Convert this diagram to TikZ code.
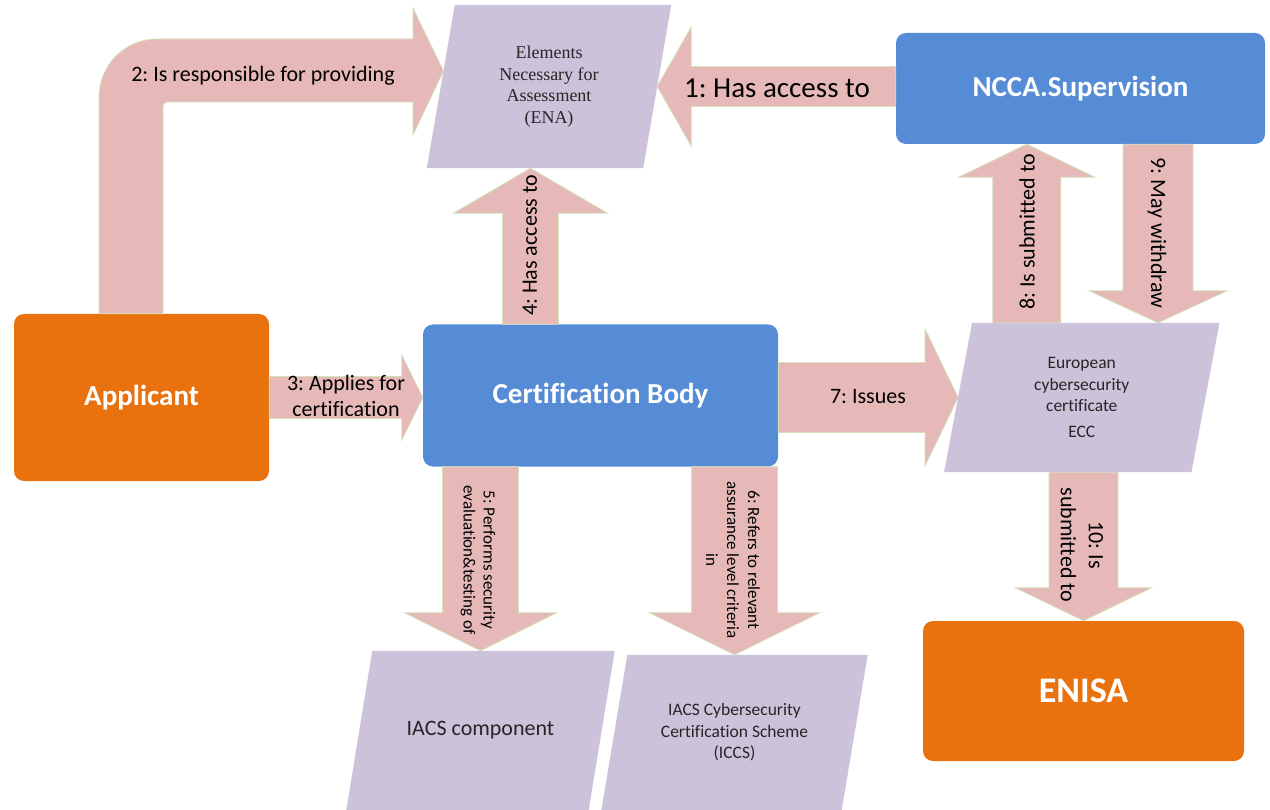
\documentclass[tikz,border=0pt]{standalone}
\usepackage{fontspec}
\setmainfont{Carlito}[Ligatures=NoCommon]
\newfontfamily\enaserif{Liberation Serif}
\usetikzlibrary{calc}
\pgfdeclarelayer{bg}
\pgfsetlayers{bg,main}
\definecolor{orng}{HTML}{E9720F}
\definecolor{blu}{HTML}{568CD6}
\definecolor{pnk}{HTML}{E6B9B8}
\definecolor{lav}{HTML}{CCC2DA}
\definecolor{grn}{HTML}{D3E2BB}
\definecolor{txt}{HTML}{262626}
\frenchspacing
\newcommand\blockarrow[5]{%
  \coordinate (ba-s) at (#1);
  \coordinate (ba-t) at (#2);
  \coordinate (ba-h) at ($(ba-t)!#5pt!(ba-s)$);
  \path[barrow] ($(ba-s)!#3pt!90:(ba-t)$) -- ($(ba-h)!#3pt!90:(ba-t)$)
    -- ($(ba-h)!#4pt!90:(ba-t)$) -- (ba-t) -- ($(ba-h)!#4pt!-90:(ba-t)$)
    -- ($(ba-h)!#3pt!-90:(ba-t)$) -- ($(ba-s)!#3pt!-90:(ba-t)$) -- cycle;}
\begin{document}
\begin{tikzpicture}[x=1pt,y=-1pt,
  barrow/.style={fill=pnk, draw=grn, line width=0.8pt, line join=miter},
  rbox/.style={rounded corners=10pt, inner sep=0pt, text=white, font=\bfseries\fontsize{29}{34}\selectfont},
  para/.style={inner sep=0pt, align=center, text=txt, font=\fontsize{17.5}{21.5}\selectfont},
  lbl/.style={inner sep=0pt, align=center, text=black, font=\fontsize{22}{27}\selectfont}]
\useasboundingbox (0,0) rectangle (1270,810);
% boxes
\node[rbox, fill=orng, minimum width=255pt, minimum height=167pt] (app) at (141.5,397.5) {Applicant};
\node[rbox, fill=blu, minimum width=355pt, minimum height=142pt] (cb) at (600.5,395.5) {Certification Body};
\node[rbox, fill=blu, minimum width=369pt, minimum height=111pt] (ncca) at (1080.5,88.5) {NCCA.Supervision};
\node[rbox, fill=orng, minimum width=321pt, minimum height=140pt, font=\bfseries\fontsize{36}{40}\selectfont] (enisa) at (1083.5,691) {ENISA};
% parallelograms
\node[para, minimum width=216pt, minimum height=163pt, font=\enaserif\fontsize{18}{21.5}\selectfont] (ena) at (549,86.5) {Elements\\Necessary for\\Assessment\\(ENA)};
\node[para, minimum width=247pt, minimum height=149pt] (ecc) at (1081.75,397.5) {European\\cybersecurity\\certificate\\[4pt]ECC};
\node[para, minimum width=242pt, minimum height=159pt, font=\fontsize{22}{26}\selectfont] (comp) at (480.5,730.5) {IACS component};
\node[para, minimum width=240pt, minimum height=155pt] (iccs) at (734.5,732.5) {IACS Cybersecurity\\Certification Scheme\\(ICCS)};
\begin{pgfonlayer}{bg}
\fill[white] (0,0) rectangle (1270,810);
\foreach \n/\s in {ena/14,ecc/14,comp/13,iccs/13}
  \fill[lav] ($(\n.south west)+(-\s,0)$) -- ($(\n.south east)+(-\s,0)$)
    -- ($(\n.north east)+(\s,0)$) -- ($(\n.north west)+(\s,0)$) -- cycle;
\end{pgfonlayer}
% connectors
\coordinate (t2) at ($(ena.west)+(2.7,-15.5)$);
\path[barrow] ($(app.north)+(-42.5,0)$) -- (99,97) .. controls (99,65) and (125,39) .. (157,39)
  -- (413,39) -- (413,8) -- (t2) -- (413,135) -- (413,102) -- (167,102)
  .. controls (165,102) and (163,104) .. (163,106) -- ($(app.north)+(21.5,0)$) -- cycle;
\blockarrow{ncca.west |- ena.east}{ena.east}{20}{59.5}{34}
\blockarrow{app.east}{cb.west |- app.east}{21}{42.5}{21}
\coordinate (s4) at ($(cb.north)+(-70,0)$);
\blockarrow{s4}{s4 |- ena.south}{28}{77}{45}
\blockarrow{comp.north |- cb.south}{comp.north}{38}{76}{38}
\blockarrow{iccs.north |- cb.south}{iccs.north}{43}{85}{42}
\blockarrow{cb.east |- ecc.west}{ecc.west}{35}{68.5}{33}
\coordinate (s8) at ($(ecc.north)+(-55,0)$);
\blockarrow{s8}{s8 |- ncca.south}{34}{68}{33}
\coordinate (s9) at ($(ncca.south)+(77.5,0)$);
\blockarrow{s9}{s9 |- ecc.north}{35}{69}{32}
\blockarrow{enisa.north |- ecc.south}{enisa.north}{34.5}{68}{33}
% labels
\node[lbl, font=\fontsize{29}{34}\selectfont] (l1) at (777,88) {1: Has access to};
\node[lbl] (l2) at (263,76) {2: Is responsible for providing};
\node[lbl, font=\fontsize{22}{26}\selectfont] (l3) at (346,396) {3: Applies for\\certification};
\node[lbl, rotate=90] (l4) at (530,245.5) {4: Has access to};
\node[lbl, rotate=-90, font=\fontsize{17}{20}\selectfont] (l5) at (478,560) {5: Performs security\\evaluation\&testing of};
\node[lbl, rotate=-90, font=\fontsize{17}{21}\selectfont] (l6) at (733,560) {6: Refers to relevant\\assurance level criteria\\in};
\node[lbl] (l7) at (868,397) {7: Issues};
\node[lbl, rotate=90] (l8) at (1027,232) {8: Is submitted to};
\node[lbl, rotate=-90] (l9) at (1157,233) {9: May withdraw};
\node[lbl, rotate=-90, font=\fontsize{22}{28}\selectfont] (l10) at (1082,545) {10: Is\\submitted to};
\end{tikzpicture}
\end{document}
